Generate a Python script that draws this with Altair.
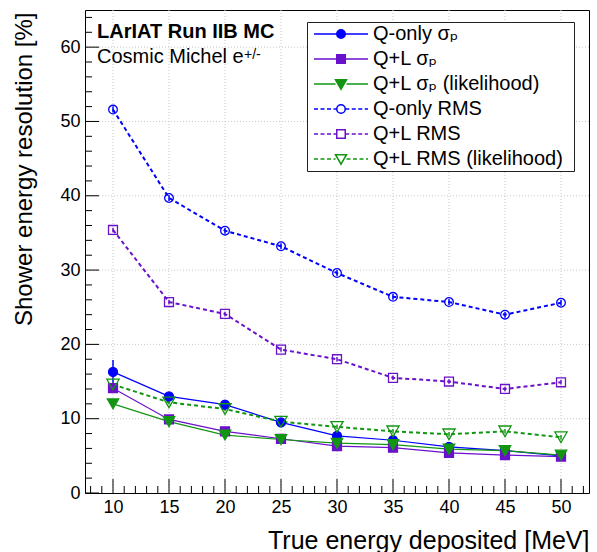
import altair as alt
import pandas as pd

# ---------------- data ----------------
energy = [10, 15, 20, 25, 30, 35, 40, 45, 50]

q_only_sigma = [16.3, 13.0, 11.9, 9.5, 7.7, 7.1, 6.2, 5.7, 5.0]
q_only_sigma_err = [1.6, 0.5, 0.4, 0.35, 0.3, 0.3, 0.3, 0.3, 0.3]
ql_sigma = [14.1, 9.9, 8.3, 7.3, 6.3, 6.1, 5.4, 5.1, 4.9]
ql_sigma_err = [0.6, 0.35, 0.3, 0.3, 0.25, 0.25, 0.25, 0.25, 0.25]
ql_lik_sigma = [12.0, 9.6, 7.8, 7.2, 6.7, 6.5, 5.9, 5.7, 5.1]
ql_lik_sigma_err = [0.4, 0.3, 0.3, 0.25, 0.25, 0.25, 0.25, 0.25, 0.25]
q_only_rms = [51.6, 39.7, 35.3, 33.2, 29.6, 26.4, 25.7, 24.0, 25.6]
q_only_rms_err = [0.4, 0.4, 0.4, 0.4, 0.4, 0.4, 0.4, 0.4, 0.4]
ql_rms = [35.4, 25.7, 24.1, 19.3, 18.0, 15.5, 15.0, 14.0, 14.9]
ql_rms_err = [0.3, 0.3, 0.3, 0.3, 0.3, 0.3, 0.3, 0.3, 0.3]
ql_lik_rms = [14.6, 12.2, 11.3, 9.6, 8.9, 8.3, 7.9, 8.3, 7.5]
ql_lik_rms_err = [0.3, 0.3, 0.3, 0.3, 0.3, 0.3, 0.3, 0.3, 0.3]

series_names = [
    "Q-only σₚ",
    "Q+L σₚ",
    "Q+L σₚ (likelihood)",
    "Q-only RMS",
    "Q+L RMS",
    "Q+L RMS (likelihood)",
]
series_values = [q_only_sigma, ql_sigma, ql_lik_sigma, q_only_rms, ql_rms, ql_lik_rms]
series_errors = [q_only_sigma_err, ql_sigma_err, ql_lik_sigma_err,
                 q_only_rms_err, ql_rms_err, ql_lik_rms_err]

x_major = [10, 15, 20, 25, 30, 35, 40, 45, 50]
x_minor = [v for v in range(8, 53) if v % 5 != 0]
y_major = [0, 10, 20, 30, 40, 50, 60]
y_minor = [v for v in range(2, 65, 2) if v % 10 != 0]
x_grid = x_major
y_grid = [10, 20, 30, 40, 50, 60]

title_main = ["LArIAT Run IIB MC"]
title_sub = ["Cosmic Michel e"]
title_sup = ["+/-"]

# ---------------- styles ----------------
FONT = "Liberation Sans, Arial, Helvetica, DejaVu Sans, sans-serif"
BLUE = "#0000ff"
PURPLE = "#6a11cc"
GREEN = "#129612"
colors = [BLUE, PURPLE, GREEN, BLUE, PURPLE, GREEN]
shapes = ["circle", "square", "triangle-down", "circle", "square", "triangle-down"]
sizes = [80, 80, 130, 75, 80, 150]
filled = [True, True, True, False, False, False]
dashed = [False, False, False, True, True, True]

W, H = 504, 483
xs = alt.Scale(domain=[7.5, 52.5], nice=False, zero=False)
ys = alt.Scale(domain=[0, 65], nice=False, zero=False)


# legend symbol paths (line sample + marker), unit = sqrt(size)/2 px
def seg_line(x0, x1, dash):
    if not dash:
        return f"M{x0},0H{x1}"
    out, x, d, g = [], x0, 0.8, 0.5
    while x < x1 - 1e-6:
        e = min(x + d, x1)
        out.append(f"M{x:.2f},0H{e:.2f}")
        x = e + g
    return "".join(out)


def marker_path(shape):
    if shape == "circle":
        r = 0.85
        return f"M{r},0A{r},{r} 0 1,1 {-r},0A{r},{r} 0 1,1 {r},0Z", r
    if shape == "square":
        r = 0.85
        return f"M{-r},{-r}H{r}V{r}H{-r}Z", r
    return "M-1.1,-0.85H1.1L0,1.05Z", 1.1


L = 5.4
legend_paths = []
for shp, dsh in zip(shapes, dashed):
    mp, r = marker_path(shp)
    legend_paths.append(seg_line(-L, -r, dsh) + seg_line(r, L, dsh) + mp)
legend_fills = [c if f else "white" for c, f in zip(colors, filled)]

# ---------------- table ----------------
rows = []
for name, vals, errs in zip(series_names, series_values, series_errors):
    for x, v, e in zip(energy, vals, errs):
        rows.append({"series": name, "x": x, "y": v, "lo": v - e, "hi": v + e})
df = pd.DataFrame(rows)

x_axis = alt.Axis(
    values=x_major, title="True energy deposited [MeV]", labelFontSize=18,
    labelFont=FONT, labelColor="black", ticks=False, tickSize=0, domain=False,
    grid=False, labelPadding=5, labelFlush=False, titleFontSize=25, titleFont=FONT,
    titleFontWeight="normal", titleColor="black", titleAlign="right",
    titleX=W, titleY=55, titleBaseline="alphabetic", format="d",
)
y_axis = alt.Axis(
    values=y_major, title="Shower energy resolution [%]", labelFontSize=18,
    labelFont=FONT, labelColor="black", ticks=False, tickSize=0, domain=False,
    grid=False, labelPadding=5, labelFlush=False, titleFontSize=24, titleFont=FONT,
    titleFontWeight="normal", titleColor="black", titleAngle=270,
    titleAlign="right", titleBaseline="middle", titleX=-61, titleY=2, format="d",
)

base = alt.Chart(df)
X = alt.X("x:Q", scale=xs, axis=x_axis)
Y = alt.Y("y:Q", scale=ys, axis=y_axis)

layers = []

# grid
layers.append(
    alt.Chart(pd.DataFrame({"x": x_grid})).mark_rule(
        color="#c8c8c8", strokeDash=[1, 2], strokeWidth=1
    ).encode(x=X)
)
layers.append(
    alt.Chart(pd.DataFrame({"y": y_grid})).mark_rule(
        color="#c8c8c8", strokeDash=[1, 2], strokeWidth=1
    ).encode(y=Y)
)
# inward ticks
for vals, ln in ((x_major, 14), (x_minor, 7)):
    layers.append(
        alt.Chart(pd.DataFrame({"x": vals})).mark_rule(color="black", strokeWidth=1).encode(
            x=X, y=alt.value(H), y2=alt.value(H - ln)
        )
    )
for vals, ln in ((y_major, 14), (y_minor, 7)):
    layers.append(
        alt.Chart(pd.DataFrame({"y": vals})).mark_rule(color="black", strokeWidth=1).encode(
            y=Y, x=alt.value(0), x2=alt.value(ln)
        )
    )

# series
for i, name in enumerate(series_names):
    sub = base.transform_filter(alt.datum.series == name)
    if dashed[i]:
        line = sub.mark_line(color=colors[i], strokeWidth=2, strokeDash=[4, 3])
    else:
        line = sub.mark_line(color=colors[i], strokeWidth=1.2)
    layers.append(line.encode(x=X, y=Y))
    layers.append(
        sub.mark_rule(color=colors[i], strokeWidth=1.5).encode(
            x=X, y=alt.Y("lo:Q", scale=ys, axis=y_axis), y2="hi:Q"
        )
    )
for i, name in enumerate(series_names):
    sub = base.transform_filter(alt.datum.series == name)
    layers.append(
        sub.mark_point(
            shape=shapes[i], size=sizes[i], filled=False, opacity=1,
            stroke=colors[i], fill=colors[i] if filled[i] else "transparent",
            strokeWidth=1.3,
        ).encode(x=X, y=Y)
    )

# legend (built from the series names, no visible marks)
leg_props = dict(
    title=" ", titleOrient="right", titlePadding=8, titleFontSize=8,
    orient="none", legendX=222, legendY=12, padding=2,
    strokeColor="#222222", fillColor="white", labelFontSize=20, labelFont=FONT,
    labelColor="black", symbolOffset=22, labelOffset=22, rowPadding=5,
    symbolStrokeWidth=1.5, symbolSize=100, labelLimit=400,
)
layers.append(
    base.transform_filter("datum.x < 0").mark_point(size=100, strokeWidth=1.5, opacity=1).encode(
        x=X, y=Y,
        shape=alt.Shape("series:N", scale=alt.Scale(domain=series_names, range=legend_paths),
                        legend=alt.Legend(**leg_props)),
        stroke=alt.Stroke("series:N", scale=alt.Scale(domain=series_names, range=colors),
                          legend=alt.Legend(**leg_props)),
        fill=alt.Fill("series:N", scale=alt.Scale(domain=series_names, range=legend_fills),
                      legend=alt.Legend(**leg_props)),
    )
)

# annotation texts
layers.append(
    alt.Chart(pd.DataFrame({"t": title_main})).mark_text(
        align="left", baseline="alphabetic", fontSize=20, fontWeight="bold", font=FONT, color="black"
    ).encode(x=alt.value(12), y=alt.value(28), text="t:N")
)
layers.append(
    alt.Chart(pd.DataFrame({"t": title_sub})).mark_text(
        align="left", baseline="alphabetic", fontSize=20, font=FONT, color="black"
    ).encode(x=alt.value(12), y=alt.value(53), text="t:N")
)
layers.append(
    alt.Chart(pd.DataFrame({"t": title_sup})).mark_text(
        align="left", baseline="alphabetic", fontSize=14, font=FONT, color="black"
    ).encode(x=alt.value(159), y=alt.value(49), text="t:N")
)

chart = alt.layer(*layers).properties(
    width=W, height=H,
    padding={"left": 85, "top": 10, "right": 8, "bottom": 59},
    autosize=alt.AutoSizeParams(type="none"),
    background="white",
).configure_view(stroke="black", strokeWidth=1)

chart.save("out.html", embed_options={"renderer": "svg", "actions": False})
